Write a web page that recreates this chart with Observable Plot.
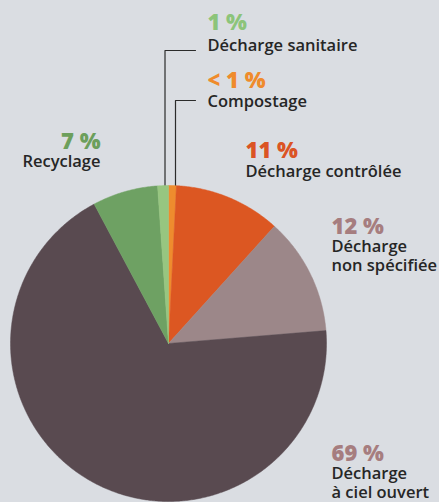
<!DOCTYPE html>
<html>
<head>
<meta charset="utf-8">
<script src="https://cdn.jsdelivr.net/npm/d3@7"></script>
<script src="https://cdn.jsdelivr.net/npm/@observablehq/plot@0.6"></script>
<style>
  html, body { margin: 0; padding: 0; background: #dadde2; }
  #chart svg { display: block; }
</style>
</head>
<body>
<div id="chart"></div>
<script>
// ---- Data (clockwise from 12 o'clock) ----
const categories = ["Compostage", "Décharge contrôlée", "Décharge non spécifiée", "Décharge à ciel ouvert", "Recyclage", "Décharge sanitaire"];
const shares = [0.8, 10.9, 12, 68.5, 6.7, 1.1];
const percentLabels = ["< 1 %", "11 %", "12 %", "69 %", "7 %", "1 %"];
const nameLabels = ["Compostage", "Décharge contrôlée", "Décharge\nnon spécifiée", "Décharge\nà ciel ouvert", "Recyclage", "Décharge sanitaire"];

// ---- Styles ----
const sliceColors = ["#ee8c2e", "#dc5722", "#9c8789", "#594a50", "#6ea163", "#97c680"];
const percentColors = ["#ef8b2c", "#db5424", "#a67d7f", "#a67d7f", "#6c9f5b", "#8cc47a"];

// ---- Layout (pixels) ----
const W = 439, H = 502;
const CX = 168, CY = 343, R = 158;
const toX = px => (px - CX) / R;
const toY = py => (CY - py) / R;
// label anchor positions: [x, percent baseline, last label baseline, anchor]
const labelPos = [
  [207, 87, 106, "start"],
  [245, 157, 176, "start"],
  [331, 233, 270, "start"],
  [331, 460, 497, "start"],
  [100, 148, 166, "end"],
  [207, 29, 50, "start"]
];
// leader lines (pixels) for the two thin slices
const leaders = [
  {cat: "Décharge sanitaire", pts: [[164.5, 190], [164.5, 50], [195, 50]]},
  {cat: "Compostage", pts: [[175, 190], [175, 100], [195, 100]]}
];

// ---- Build pie polygons ----
const pie = d3.pie().sort(null).value(d => d.v).startAngle(0).endAngle(2 * Math.PI);
const arcs = pie(categories.map((c, i) => ({c, v: shares[i]})));
const slicePts = [];
arcs.forEach(a => {
  const steps = Math.max(4, Math.ceil((a.endAngle - a.startAngle) / (Math.PI / 360)));
  slicePts.push({c: a.data.c, x: 0, y: 0});
  for (let k = 0; k <= steps; k++) {
    const t = a.startAngle + (a.endAngle - a.startAngle) * k / steps;
    slicePts.push({c: a.data.c, x: Math.sin(t), y: Math.cos(t)});
  }
  slicePts.push({c: a.data.c, x: 0, y: 0});
});

const leaderPts = leaders.flatMap(l => l.pts.map(([px, py]) => ({c: l.cat, x: toX(px), y: toY(py)})));

const labelRows = categories.map((c, i) => ({
  c,
  pct: percentLabels[i],
  name: nameLabels[i],
  pctColor: percentColors[i],
  x: toX(labelPos[i][0]),
  yPct: toY(labelPos[i][1]),
  yName: toY(labelPos[i][2]),
  anchor: labelPos[i][3]
}));

const pctStyle = {lineAnchor: "bottom", fontSize: 22, fontWeight: 800};
const nameStyle = {fill: "#262626", lineAnchor: "bottom", lineHeight: 1.1, fontSize: 16.5, fontWeight: 600};

const chart = Plot.plot({
  width: W,
  height: H,
  margin: 0,
  x: {domain: [toX(0), toX(W)], axis: null},
  y: {domain: [toY(H), toY(0)], axis: null},
  color: {domain: categories, range: sliceColors},
  style: {background: "#dadde2", fontFamily: "'Open Sans', sans-serif"},
  marks: [
    Plot.line(leaderPts, {x: "x", y: "y", z: "c", stroke: "#2b2b2b", strokeWidth: 1.2}),
    Plot.line(slicePts, {x: "x", y: "y", z: "c", fill: "c", stroke: "c", strokeWidth: 0.5}),
    Plot.text(labelRows.filter(d => d.anchor === "start"), {
      x: "x", y: "yPct", text: "pct", fill: "pctColor", textAnchor: "start", ...pctStyle
    }),
    Plot.text(labelRows.filter(d => d.anchor === "end"), {
      x: "x", y: "yPct", text: "pct", fill: "pctColor", textAnchor: "end", ...pctStyle
    }),
    Plot.text(labelRows.filter(d => d.anchor === "start"), {
      x: "x", y: "yName", text: "name", textAnchor: "start", ...nameStyle
    }),
    Plot.text(labelRows.filter(d => d.anchor === "end"), {
      x: "x", y: "yName", text: "name", textAnchor: "end", ...nameStyle
    })
  ]
});
document.getElementById("chart").appendChild(chart);
</script>
</body>
</html>
